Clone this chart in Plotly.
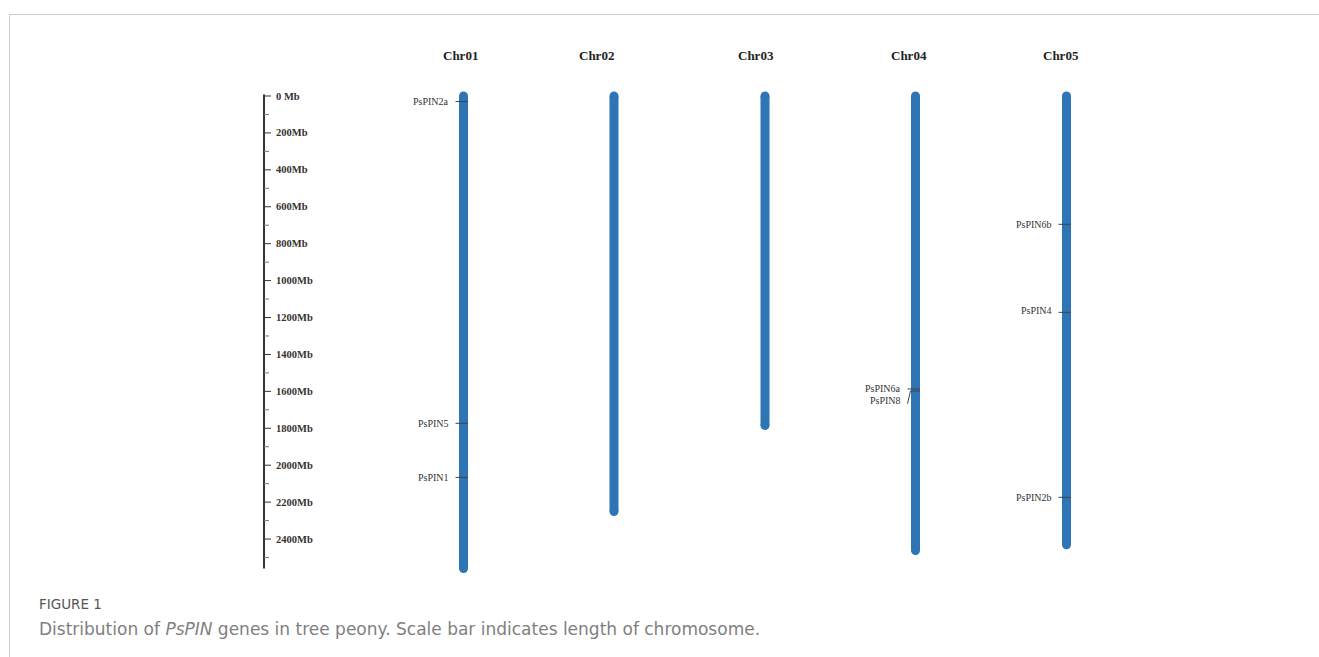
import plotly.graph_objects as go

# Chromosome names and lengths (Mb)
chromosomes = ["Chr01", "Chr02", "Chr03", "Chr04", "Chr05"]
chrom_lengths = [2560, 2251, 1785, 2462, 2431]

# Gene positions (Mb) on each chromosome
gene_names = ["PsPIN2a", "PsPIN5", "PsPIN1", "PsPIN6a", "PsPIN8", "PsPIN6b", "PsPIN4", "PsPIN2b"]
gene_chroms = ["Chr01", "Chr01", "Chr01", "Chr04", "Chr04", "Chr05", "Chr05", "Chr05"]
gene_pos = [30, 1773, 2066, 1587, 1598, 695, 1172, 2174]
# Where a label has to be pushed away from a neighbour (Mb of the label itself)
label_pos = [30, 1773, 2066, 1582, 1647, 695, 1160, 2174]

# Scale bar
scale_ticks = list(range(0, 2600, 200))
scale_labels = ["0 Mb"] + [f"{v}Mb" for v in scale_ticks[1:]]
scale_minor = list(range(100, 2600, 200))
scale_end = 2560

# Layout: horizontal positions of the chromosome columns (x axis in pixels)
chrom_x = [463.5, 614, 765, 915.5, 1066.5]
title_x = [460, 596, 756, 909, 1061]
scale_x = 264
W, H = 1319, 657
PX_PER_MB = 0.1846
Y0_PX = 96
y_top = -Y0_PX / PX_PER_MB
y_bot = (H - Y0_PX) / PX_PER_MB

BLUE = "#2E75B6"
DARK = "#333333"
SERIF = "Liberation Serif"

fig = go.Figure()

# Chromosome bodies with rounded ends
for name, length, x in zip(chromosomes, chrom_lengths, chrom_x):
    fig.add_trace(go.Scatter(
        x=[x, x], y=[0, length], mode="lines+markers",
        line=dict(color=BLUE, width=9),
        marker=dict(color=BLUE, size=9, line=dict(width=0)),
        hoverinfo="skip", showlegend=False))

annotations = []

# Gene ticks and labels
for g, c, pos, lpos in zip(gene_names, gene_chroms, gene_pos, label_pos):
    x = chrom_x[chromosomes.index(c)]
    if lpos > pos + 20:
        xs = [x - 8, x - 5, x + 4.5]
        ys = [lpos + 20, pos, pos]
    else:
        xs = [x - 8, x + 4.5]
        ys = [pos, pos]
    fig.add_trace(go.Scatter(
        x=xs, y=ys, mode="lines", line=dict(color="#444444", width=1),
        hoverinfo="skip", showlegend=False))
    annotations.append(dict(
        x=x - 14, y=lpos, xref="x", yref="y", text=g, showarrow=False,
        xanchor="right", yanchor="middle", borderpad=0,
        font=dict(family=SERIF, size=10, color=DARK)))

# Chromosome titles
for name, tx in zip(chromosomes, title_x):
    annotations.append(dict(
        x=tx, y=-222, xref="x", yref="y", text=f"<b>{name}</b>", showarrow=False,
        xanchor="center", yanchor="middle",
        font=dict(family=SERIF, size=13, color="#222222")))

# Scale bar
fig.add_trace(go.Scatter(
    x=[scale_x, scale_x], y=[-8, scale_end], mode="lines",
    line=dict(color=DARK, width=2), hoverinfo="skip", showlegend=False))
for v, lab in zip(scale_ticks, scale_labels):
    fig.add_trace(go.Scatter(
        x=[scale_x, scale_x + 7], y=[v, v], mode="lines",
        line=dict(color=DARK, width=1), hoverinfo="skip", showlegend=False))
    annotations.append(dict(
        x=scale_x + 11, y=v, xref="x", yref="y", text=f"<b>{lab}</b>", showarrow=False,
        xanchor="left", yanchor="middle", borderpad=0,
        font=dict(family=SERIF, size=10.5, color=DARK)))
for v in scale_minor:
    fig.add_trace(go.Scatter(
        x=[scale_x, scale_x + 5], y=[v, v], mode="lines",
        line=dict(color="#777777", width=1), hoverinfo="skip", showlegend=False))

# Figure caption
annotations.append(dict(
    x=38 / W, y=1 - 604 / H, xref="paper", yref="paper", text="FIGURE 1",
    showarrow=False, xanchor="left", yanchor="middle", borderpad=0,
    font=dict(family="DejaVu Sans", size=13.5, color="#555555")))
annotations.append(dict(
    x=38 / W, y=1 - 629 / H, xref="paper", yref="paper",
    text="Distribution of <i>PsPIN</i> genes in tree peony. Scale bar indicates length of chromosome.",
    showarrow=False, xanchor="left", yanchor="middle", borderpad=0,
    font=dict(family="DejaVu Sans", size=17, color="#808080")))

# Frame lines
shapes = [
    dict(type="line", xref="paper", yref="paper", x0=9 / W, x1=1, y0=1 - 14.5 / H, y1=1 - 14.5 / H,
         line=dict(color="#cccccc", width=1)),
    dict(type="line", xref="paper", yref="paper", x0=9.5 / W, x1=9.5 / W, y0=1 - 14.5 / H, y1=0,
         line=dict(color="#cccccc", width=1)),
]

fig.update_layout(
    width=W, height=H,
    margin=dict(l=0, r=0, t=0, b=0),
    paper_bgcolor="white", plot_bgcolor="white",
    xaxis=dict(range=[0, W], visible=False, fixedrange=True),
    yaxis=dict(range=[y_bot, y_top], visible=False, fixedrange=True),
    annotations=annotations, shapes=shapes,
)

fig.write_html("out.html")
